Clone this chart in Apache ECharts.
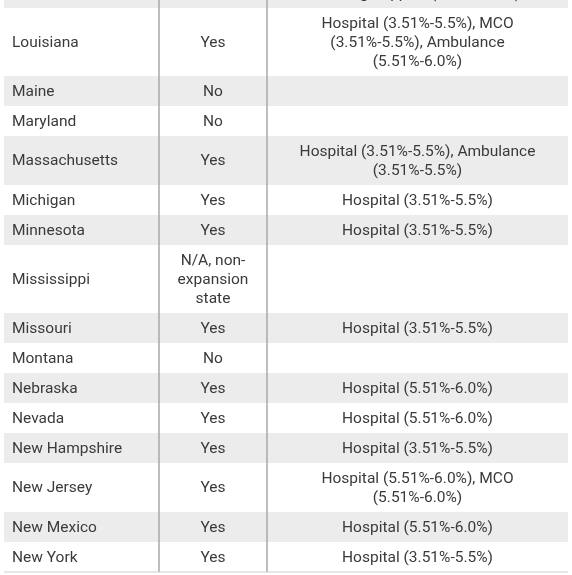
<!DOCTYPE html>
<html><head><meta charset="utf-8">
<script src="https://cdn.jsdelivr.net/npm/echarts@6/dist/echarts.min.js"></script>
<style>html,body{margin:0;padding:0;background:#fff}#c{width:572px;height:575px}</style>
</head><body><div id="c"></div>
<script>
var states = ["", "Louisiana", "Maine", "Maryland", "Massachusetts", "Michigan", "Minnesota", "Mississippi", "Missouri", "Montana", "Nebraska", "Nevada", "New Hampshire", "New Jersey", "New Mexico", "New York"];
var expansion = ["", "Yes", "No", "No", "Yes", "Yes", "Yes", "N/A, non-\nexpansion\nstate", "Yes", "No", "Yes", "Yes", "Yes", "Yes", "Yes", "Yes"];
var taxes = ["Nursing Support (3.51%-5.5%)", "Hospital (3.51%-5.5%), MCO\n(3.51%-5.5%), Ambulance\n(5.51%-6.0%)", "", "", "Hospital (3.51%-5.5%), Ambulance\n(3.51%-5.5%)", "Hospital (3.51%-5.5%)", "Hospital (3.51%-5.5%)", "", "Hospital (3.51%-5.5%)", "", "Hospital (5.51%-6.0%)", "Hospital (5.51%-6.0%)", "Hospital (3.51%-5.5%)", "Hospital (5.51%-6.0%), MCO\n(5.51%-6.0%)", "Hospital (5.51%-6.0%)", "Hospital (3.51%-5.5%)"];

var LH = 19, PAD = 11;
var tops = [], heights = [];
var y = 8 - (LH + PAD);
for (var i = 0; i < states.length; i++) {
  var n = Math.max(1, states[i].split('\n').length, expansion[i].split('\n').length, taxes[i].split('\n').length);
  var h = LH * n + PAD;
  tops.push(y); heights.push(h); y += h;
}
var data = states.map(function (s, i) { return [i, tops[i], heights[i]]; });
var font = '15.5px Roboto, "Noto Sans", sans-serif';
function txt(x, yc, s, align) {
  return { type: 'text', style: { x: x, y: yc, text: s, fill: '#3a3a3a', font: font, align: align, verticalAlign: 'middle', lineHeight: LH } };
}
var chart = echarts.init(document.getElementById('c'));
chart.setOption({
  animation: false,
  grid: { left: 0, right: 0, top: 0, bottom: 0 },
  xAxis: { type: 'value', min: 0, max: 572, show: false },
  yAxis: { type: 'value', min: 0, max: 575, inverse: true, show: false },
  series: [{
    type: 'custom',
    clip: true,
    data: data,
    renderItem: function (params, api) {
      var i = api.value(0);
      var p0 = api.coord([4, api.value(1)]);
      var p1 = api.coord([568, api.value(1) + api.value(2)]);
      var c1 = api.coord([159, 0])[0], c2 = api.coord([267, 0])[0];
      var yc = (p0[1] + p1[1]) / 2 + 1;
      var ch = [];
      if (i % 2 === 0) ch.push({ type: 'rect', shape: { x: p0[0], y: p0[1], width: p1[0] - p0[0], height: p1[1] - p0[1] }, style: { fill: '#ececec' } });
      ch.push(txt(p0[0] + 8, yc, states[i], 'left'));
      ch.push(txt((c1 + c2) / 2, yc, expansion[i], 'center'));
      ch.push(txt((c2 + p1[0]) / 2, yc, taxes[i], 'center'));
      ch.push({ type: 'line', shape: { x1: c1, y1: p0[1], x2: c1, y2: p1[1] }, style: { stroke: '#a8a8a8', lineWidth: 1.5 } });
      ch.push({ type: 'line', shape: { x1: c2, y1: p0[1], x2: c2, y2: p1[1] }, style: { stroke: '#a8a8a8', lineWidth: 1.5 } });
      if (i === states.length - 1) ch.push({ type: 'line', shape: { x1: p0[0], y1: p1[1], x2: p1[0], y2: p1[1] }, style: { stroke: '#cfcfcf', lineWidth: 1 } });
      return { type: 'group', children: ch };
    }
  }]
});
</script></body></html>
